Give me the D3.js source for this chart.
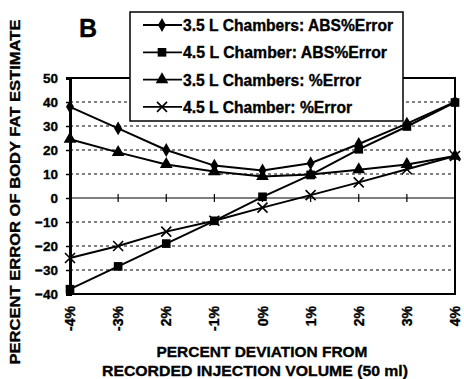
<!DOCTYPE html>
<html>
<head>
<meta charset="utf-8">
<script src="https://cdn.jsdelivr.net/npm/d3@7"></script>
<style>
  body { margin: 0; background: #fff; }
  text { font-family: "Liberation Sans", Arial, sans-serif; font-weight: bold; fill: #000; stroke: #000; stroke-width: 0.35px; }
</style>
</head>
<body>
<div id="chart"></div>
<script>
var w = 464,
    h = 379,
    m = [78, 6, 85, 70]; // top right bottom left

var categories = ["-4%", "-3%", "2%", "-1%", "0%", "1%", "2%", "3%", "4%"];
var abs35 = [38, 29, 20, 13.5, 11.5, 14.5, 22.5, 31, 40];
var abs45 = [-38, -28.5, -19, -9.5, 0.5, 9.6, 20.3, 29.8, 39.8];
var pct35 = [24.5, 19, 14, 11, 9, 9.8, 11.8, 14, 17.5];
var pct45 = [-25, -20, -14, -9.5, -4, 1.2, 6.5, 12, 17.5];
var yTicks = [50, 40, 30, 20, 10, 0, -10, -20, -30, -40];

var series = [
  { name: "3.5 L Chambers: ABS%Error", values: abs35, sym: "diamond", len: 210 },
  { name: "4.5 L Chamber: ABS%Error", values: abs45, sym: "square", len: 204 },
  { name: "3.5 L Chambers: %Error", values: pct35, sym: "triangle", len: 178 },
  { name: "4.5 L Chamber: %Error", values: pct45, sym: "cross", len: 169 }
];

var iw = w - m[1] - m[3],
    ih = h - m[0] - m[2];

var x = d3.scalePoint().domain(d3.range(categories.length)).range([0, iw - 3]);
var y = d3.scaleLinear().domain([-40, 50]).range([ih, 0]);

var svg = d3.select("#chart").append("svg")
    .attr("width", w)
    .attr("height", h);

var g = svg.append("g")
    .attr("transform", "translate(" + m[3] + "," + m[0] + ")");

// dashed grid
g.selectAll("line.grid")
    .data(yTicks.filter(function(d) { return d !== 0 && d !== 50 && d !== -40; }))
  .enter().append("line")
    .attr("x1", 0).attr("x2", iw - 3)
    .attr("y1", y).attr("y2", y)
    .attr("stroke", "#000")
    .attr("stroke-width", 1)
    .attr("stroke-dasharray", "3,3");

// frame
g.append("path")
    .attr("d", "M0," + y(50) + "H" + (iw - 3) + "V" + y(-40) + "H0")
    .attr("fill", "none")
    .attr("stroke", "#000")
    .attr("stroke-width", 2);

// zero line with category ticks
g.append("line")
    .attr("x1", 0).attr("x2", iw - 3)
    .attr("y1", y(0)).attr("y2", y(0))
    .attr("stroke", "#000").attr("stroke-width", 1.2);
g.selectAll("line.xt")
    .data(d3.range(categories.length))
  .enter().append("line")
    .attr("x1", x).attr("x2", x)
    .attr("y1", y(0) - 4).attr("y2", y(0) + 4)
    .attr("stroke", "#000").attr("stroke-width", 1.2);

// y axis
var yAxis = g.append("g")
    .call(d3.axisLeft(y).tickValues(yTicks).tickSize(4).tickPadding(8));
yAxis.select(".domain").attr("stroke-width", 3);
yAxis.selectAll(".tick line").attr("stroke-width", 1.5);
yAxis.selectAll("text")
    .style("font-size", "13.5px")
    .style("font-family", "'Liberation Sans', Arial, sans-serif")
    .style("font-weight", "bold");

// x tick labels, rotated
g.selectAll("text.xl")
    .data(categories)
  .enter().append("text")
    .attr("transform", function(d, i) {
      return "translate(" + (x(i) + 5) + "," + (ih + 12) + ") rotate(-90)";
    })
    .attr("text-anchor", "end")
    .style("font-size", "14px")
    .text(function(d) { return d; });

// symbols
function marker(sel, sym) {
  if (sym === "cross") {
    sel.append("path")
        .attr("d", "M-5,-5L5,5M-5,5L5,-5")
        .attr("stroke", "#000").attr("stroke-width", 1.6).attr("fill", "none");
  } else {
    var type = sym === "diamond" ? d3.symbolDiamond : sym === "square" ? d3.symbolSquare : d3.symbolTriangle;
    var size = sym === "diamond" ? 55 : sym === "square" ? 75 : 70;
    sel.append("path")
        .attr("d", d3.symbol().type(type).size(size))
        .attr("fill", "#000");
  }
}

var line = d3.line()
    .x(function(d, i) { return x(i); })
    .y(function(d) { return y(d); });

series.forEach(function(s) {
  g.append("path")
      .datum(s.values)
      .attr("d", line)
      .attr("fill", "none")
      .attr("stroke", "#000")
      .attr("stroke-width", 2);
  g.selectAll(null)
      .data(s.values)
    .enter().append("g")
      .attr("transform", function(d, i) { return "translate(" + x(i) + "," + y(d) + ")"; })
      .each(function() { marker(d3.select(this), s.sym); });
});

// legend
var lg = svg.append("g").attr("transform", "translate(130,12)");
lg.append("rect")
    .attr("width", 273).attr("height", 109)
    .attr("fill", "#fff").attr("stroke", "#000").attr("stroke-width", 1.5);
series.forEach(function(s, i) {
  var row = lg.append("g").attr("transform", "translate(0," + (13 + i * 27.3) + ")");
  row.append("line")
      .attr("x1", 13).attr("x2", 52)
      .attr("stroke", "#000").attr("stroke-width", 1.8);
  marker(row.append("g").attr("transform", "translate(32,0)"), s.sym);
  row.append("text")
      .attr("x", 53).attr("y", 6)
      .attr("textLength", s.len)
      .attr("lengthAdjust", "spacingAndGlyphs")
      .style("font-size", "16px")
      .text(s.name);
});

// panel letter
svg.append("text")
    .attr("x", 79).attr("y", 37)
    .style("font-size", "25px")
    .text("B");

// axis titles
svg.append("text")
    .attr("transform", "translate(20,192) rotate(-90)")
    .attr("text-anchor", "middle")
    .attr("textLength", 345)
    .attr("lengthAdjust", "spacingAndGlyphs")
    .style("font-size", "15px")
    .text("PERCENT ERROR OF BODY FAT ESTIMATE");

svg.append("text")
    .attr("x", 262).attr("y", 357)
    .attr("text-anchor", "middle")
    .attr("textLength", 211)
    .attr("lengthAdjust", "spacingAndGlyphs")
    .style("font-size", "15.5px")
    .text("PERCENT DEVIATION FROM");
svg.append("text")
    .attr("x", 255).attr("y", 376)
    .attr("text-anchor", "middle")
    .attr("textLength", 306)
    .attr("lengthAdjust", "spacingAndGlyphs")
    .style("font-size", "15.5px")
    .text("RECORDED INJECTION VOLUME (50 ml)");
</script>
</body>
</html>
